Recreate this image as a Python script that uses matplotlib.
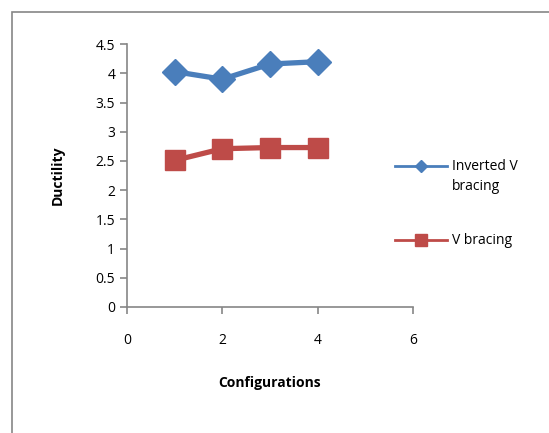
import matplotlib.pyplot as plt
from matplotlib.lines import Line2D
from matplotlib.patches import Rectangle

# Data
configs = [1, 2, 3, 4]
inverted_v = [4.03, 3.90, 4.16, 4.20]
v_bracing = [2.51, 2.71, 2.73, 2.73]
series_labels = ["Inverted V\nbracing", "V bracing"]

blue = "#4A7EBB"
red = "#BE4B48"
grey = "#868686"

plt.rcParams["font.family"] = ["Open Sans", "DejaVu Sans"]

W, H = 549, 433
fig = plt.figure(figsize=(W / 100, H / 100), dpi=100)
ax = fig.add_axes([0.2313, 0.291, 0.521, 0.607])

# Chart border (Excel style frame)
fig.patches.append(Rectangle((12 / W, -0.1), 1.2, 1 - 12 / H + 0.1,
                             transform=fig.transFigure, fill=False,
                             edgecolor=grey, linewidth=1.2))

ax.plot(configs, inverted_v, color=blue, linewidth=3.8, marker="D",
        markersize=13, markeredgecolor=blue, solid_joinstyle="round")
ax.plot(configs, v_bracing, color=red, linewidth=3.8, marker="s",
        markersize=15, markeredgecolor=red, solid_joinstyle="round")

ax.set_xlim(0, 6)
ax.set_ylim(0, 4.5)
ax.set_xticks([0, 2, 4, 6])
ax.set_yticks([0, 0.5, 1, 1.5, 2, 2.5, 3, 3.5, 4, 4.5])
ax.set_yticklabels(["0", "0.5", "1", "1.5", "2", "2.5", "3", "3.5", "4", "4.5"])

for side in ["top", "right"]:
    ax.spines[side].set_visible(False)
for side in ["left", "bottom"]:
    ax.spines[side].set_color(grey)
    ax.spines[side].set_linewidth(1.2)

ax.tick_params(axis="both", colors=grey, labelcolor="black", labelsize=10,
               length=5, width=1.2, direction="out")
ax.tick_params(axis="x", pad=14)

ax.set_xlabel("Configurations", fontsize=10, fontweight="bold", labelpad=20)
ax.set_ylabel("Ductility", fontsize=10, fontweight="bold", labelpad=22)

# Legend drawn by hand so the marker lines up with the first text line
legend_items = [(series_labels[0], blue, "D", 6, 166),
                (series_labels[1], red, "s", 8, 240)]
for label, color, marker, ms, ypx in legend_items:
    y = 1 - ypx / H
    fig.add_artist(Line2D([395 / W, 447 / W], [y, y], color=color,
                          linewidth=2, transform=fig.transFigure))
    fig.add_artist(Line2D([421 / W], [y], color=color, marker=marker,
                          markersize=ms, transform=fig.transFigure))
    fig.text(452 / W, y + 7 / H, label, fontsize=10, va="top", ha="left",
             linespacing=1.45)

plt.savefig("out.png", dpi=100)
plt.close()
